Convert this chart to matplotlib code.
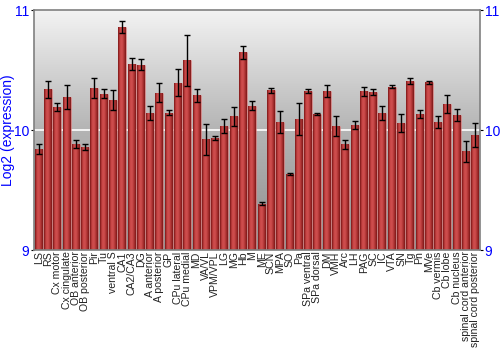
import numpy as np
import matplotlib
matplotlib.use("Agg")
import matplotlib.pyplot as plt
from matplotlib.colors import LinearSegmentedColormap

plt.rcParams['font.family'] = ['Liberation Sans', 'DejaVu Sans']

categories = ["LS", "RS", "Cx motor", "Cx cingulate", "OB anterior", "OB posterior", "Pir", "Tu",
              "ventral S", "CA1", "CA2/CA3", "DG", "A anterior", "A posterior", "GP", "CPu lateral",
              "CPu medial", "MD", "VA/VL", "VPM/VPL", "LG", "MG", "Hb", "M", "ME", "SCN", "MPA", "SO",
              "Pa", "SPa ventral", "SPa dorsal", "DM", "VMH", "Arc", "LH", "PAG", "SC", "IC", "VTA",
              "SN", "Tg", "Pn", "MVe", "Cb vermis", "Cb lobe", "Cb nucleus", "spinal cord anterior",
              "spinal cord posterior"]
values = [9.839, 10.339, 10.192, 10.275, 9.881, 9.858, 10.35, 10.303,
          10.247, 10.858, 10.553, 10.544, 10.142, 10.311, 10.144, 10.394,
          10.58, 10.289, 9.922, 9.933, 10.033, 10.114, 10.647, 10.203, 9.386, 10.333, 10.067, 9.633,
          10.089, 10.325, 10.133, 10.322, 10.036, 9.881, 10.042, 10.322, 10.317, 10.142, 10.361,
          10.058, 10.406, 10.136, 10.397, 10.064, 10.217, 10.122, 9.822,
          9.958]
errors = [0.043, 0.072, 0.033, 0.10, 0.033, 0.024, 0.083, 0.036,
          0.083, 0.053, 0.05, 0.048, 0.062, 0.08, 0.023, 0.114,
          0.215, 0.053, 0.128, 0.015, 0.061, 0.08, 0.057, 0.04, 0.015, 0.021, 0.089, 0.006,
          0.132, 0.015, 0.005, 0.051, 0.083, 0.036, 0.033, 0.039, 0.025, 0.062, 0.015,
          0.073, 0.025, 0.033, 0.011, 0.05, 0.075, 0.05, 0.09,
          0.103]
yticks = [9, 10, 11]
ylabel = "Log2 (expression)"

fig = plt.figure(figsize=(5.0, 3.5), dpi=100)
ax = fig.add_axes([34/500, 1-250/350, 446/500, 240/350])
n = len(categories)
x = np.arange(n)
ymin, ymax = 9, 11
ax.set_xlim(-0.5, n-0.5)
ax.set_ylim(ymin, ymax)

# background gradient
bg = np.linspace(0, 1, 256).reshape(-1, 1)
bgcmap = LinearSegmentedColormap.from_list("bg", ["#f3f3f3", "#b4b4b4", "#8f8f8f"])
ax.imshow(bg, cmap=bgcmap, aspect="auto", extent=(-0.5, n-0.5, ymin, ymax),
          origin="upper", zorder=0)
ax.axhline(10, color="white", lw=1.2, zorder=1)

bars = ax.bar(x, [v - ymin for v in values], bottom=ymin, width=0.86,
              color="#b03030", edgecolor=(1, 0.7, 0.7, 0.35), linewidth=0.8, zorder=2)
barcmap = LinearSegmentedColormap.from_list("bar", ["#7a1515", "#c84545", "#d05050", "#b03434", "#7c1818"])
grad = np.linspace(0, 1, 64).reshape(1, -1)
for b in bars:
    im = ax.imshow(grad, cmap=barcmap, aspect="auto",
                   extent=(b.get_x(), b.get_x() + b.get_width(), b.get_y(), b.get_y() + b.get_height()),
                   zorder=2.5)
    im.set_clip_path(b)

ax.errorbar(x, values, yerr=errors, fmt="none", ecolor="black", elinewidth=1.0,
            capsize=2.2, capthick=1.0, zorder=4)

ax.set_xticks(x)
ax.set_xticklabels(categories, rotation=90, fontsize=7.6, color="#222222")
ax.tick_params(axis="x", length=0, pad=1)
ax.set_yticks(yticks)
ax.set_yticklabels([str(t) for t in yticks], color="blue", fontsize=10)
ax.tick_params(axis="y", which="both", direction="out", length=2.5, color="black",
               left=True, right=True, labelleft=True, labelright=True, pad=1)
ax.set_ylabel(ylabel, color="blue", fontsize=10)
ax.yaxis.set_label_coords(-0.042, 0.5)
for s in ax.spines.values():
    s.set_color("#808080")
    s.set_linewidth(1.2)
ax.set_xlim(-0.5, n-0.5)
ax.set_ylim(ymin, ymax)

fig.savefig("out.png", dpi=100)
